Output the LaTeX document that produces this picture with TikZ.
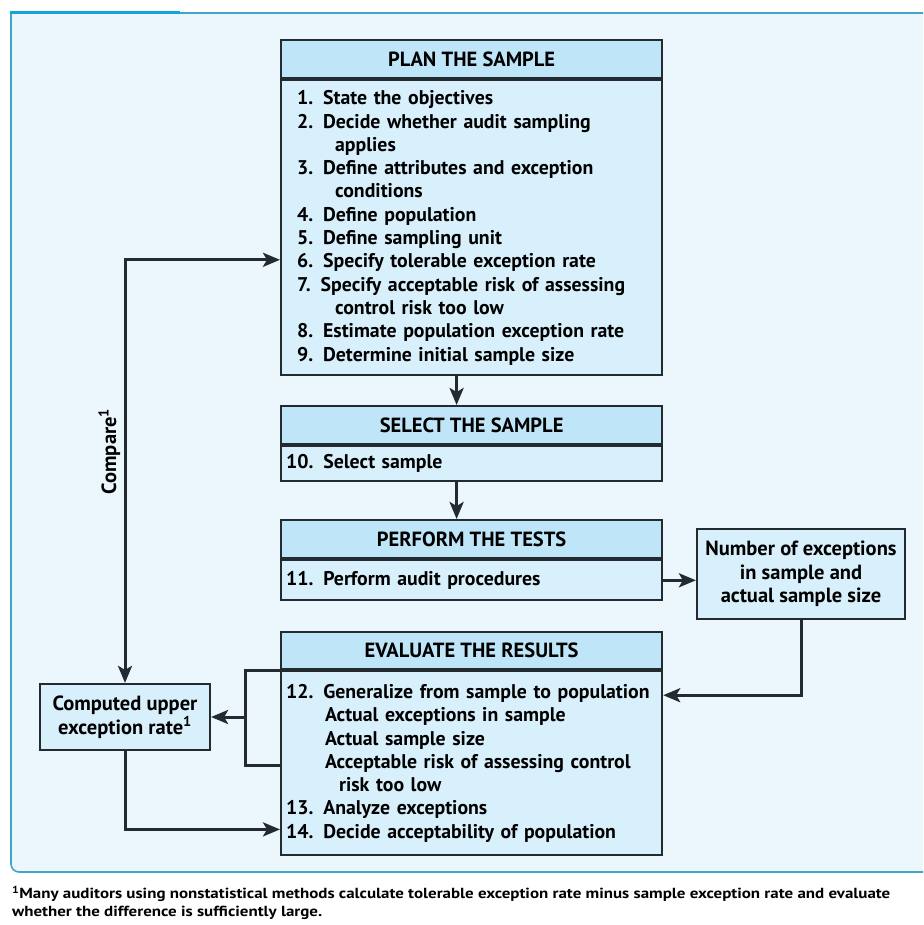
\documentclass[tikz,border=0pt]{standalone}
\usepackage{fontspec}
\setmainfont{PT Sans}
\newfontfamily\notefont{PT Sans}[FakeStretch=1.16]
\usetikzlibrary{positioning,arrows.meta}

\definecolor{panelbg}{HTML}{EBF6FD}
\definecolor{panelline}{HTML}{3FA6C8}
\definecolor{paneltop}{HTML}{12A6DC}
\definecolor{headblue}{HTML}{BEE5F8}
\definecolor{bodyblue}{HTML}{D8F0FC}
\definecolor{ink}{HTML}{232A30}

\begin{document}
\begin{tikzpicture}[x=1pt,y=-1pt,font=\fontsize{19.8}{23.3}\selectfont\bfseries]
        \tikzstyle{head}=[draw=ink, line width=2.2pt, fill=headblue, minimum width=381pt, minimum height=38pt, inner sep=0pt, anchor=north west, font=\fontsize{20.5}{24}\selectfont\bfseries]
        \tikzstyle{list}=[draw=ink, line width=2.2pt, fill=bodyblue, align=left, inner ysep=0pt, inner xsep=5pt, text width=371pt]
        \tikzstyle{sidebox}=[draw=ink, line width=2.2pt, fill=bodyblue, align=center, inner sep=0pt, font=\fontsize{20.5}{23.5}\selectfont\bfseries]
        \tikzstyle{wire}=[draw=ink, line width=3pt]
        \tikzstyle{flow}=[wire, -{Stealth[length=17pt,width=14pt,inset=4pt]}]
        \tikzstyle{twoway}=[wire, {Stealth[length=17pt,width=14pt,inset=4pt]}-{Stealth[length=17pt,width=14pt,inset=4pt]}]
        \useasboundingbox (0,0) rectangle (923,925);
        \clip (0,0) rectangle (923,925);

        % panel behind the chart
        \fill[panelbg] (935,13) -- (11,13) [rounded corners=8pt] -- (11,872) -- (935,872) -- cycle;
        \draw[panelline, line width=1.6pt, rounded corners=8pt] (11,13) -- (11,872) -- (935,872);
        \draw[panelline, line width=1.6pt] (11,13) -- (935,13);
        \draw[paneltop, line width=3pt] (10,13) -- (180,13);

        % the four stages
        \node[head] (plan) at (280,39) {PLAN THE SAMPLE};
        \node[list, below=0pt of plan, minimum height=295pt, inner xsep=16pt, text width=349pt] (planlist) {%
            1. State the objectives\\
            2. Decide whether audit sampling\\
            \hspace*{38pt}applies\\
            3. Define attributes and exception\\
            \hspace*{38pt}conditions\\
            4. Define population\\
            5. Define sampling unit\\
            6. Specify tolerable exception rate\\
            7. Specify acceptable risk of assessing\\
            \hspace*{38pt}control risk too low\\
            8. Estimate population exception rate\\
            9. Determine initial sample size};

        \node[head] (select) at (280,405) {SELECT THE SAMPLE};
        \node[list, below=0pt of select, minimum height=35pt] (selectlist) {10. Select sample};

        \node[head] (perform) at (280,519) {PERFORM THE TESTS};
        \node[list, below=0pt of perform, minimum height=40pt] (performlist) {11. Perform audit procedures};

        \node[head, minimum height=37pt] (evaluate) at (280,631) {EVALUATE THE RESULTS};
        \node[list, below=0pt of evaluate, minimum height=184pt] (evaluatelist) {%
            12. Generalize from sample to population\\
            \hspace*{39pt}Actual exceptions in sample\\
            \hspace*{39pt}Actual sample size\\
            \hspace*{39pt}Acceptable risk of assessing control\\
            \hspace*{53pt}risk too low\\
            13. Analyze exceptions\\
            14. Decide acceptability of population};

        % side boxes
        \node[sidebox, minimum width=208pt, minimum height=90pt] (count) at (801,574) {Number of exceptions\\in sample and\\actual sample size};
        \node[sidebox, minimum width=170pt, minimum height=66pt] (upper) at (125,717) {Computed upper\\exception rate\textsuperscript{1}};

        % connectors
        \draw[flow] ([xshift=-15pt]planlist.south) -- ([xshift=-15pt]select.north);
        \draw[flow] ([xshift=-15pt]selectlist.south) -- ([xshift=-15pt]perform.north);
        \draw[flow] (performlist.east) -- (count.west |- performlist.east);
        \draw[flow] (count.south) |- ([yshift=-25pt]evaluatelist.north east);
        \draw[wire] (evaluatelist.north west) -- ++(-35,0) coordinate (bracket) |- ([yshift=-95pt]evaluatelist.north west);
        \draw[flow] (bracket |- upper.east) -- (upper.east);
        \draw[flow] (upper.south) |- ([yshift=27pt]evaluatelist.south west);
        \draw[twoway] (upper.north) |- node[pos=0.27, rotate=90, above=3pt, font=\fontsize{20.5}{24}\selectfont\bfseries] (compare) {Compare\textsuperscript{1}} ([yshift=-32pt]planlist.west);

        % footnote
        \node[anchor=north west, align=left, inner sep=0pt, font=\notefont\fontsize{14.6}{18}\selectfont\bfseries] (footnote) at (12,886) {\textsuperscript{1}Many auditors using nonstatistical methods calculate tolerable exception rate minus sample exception rate and evaluate\\whether the difference is sufficiently large.};
\end{tikzpicture}
\end{document}
